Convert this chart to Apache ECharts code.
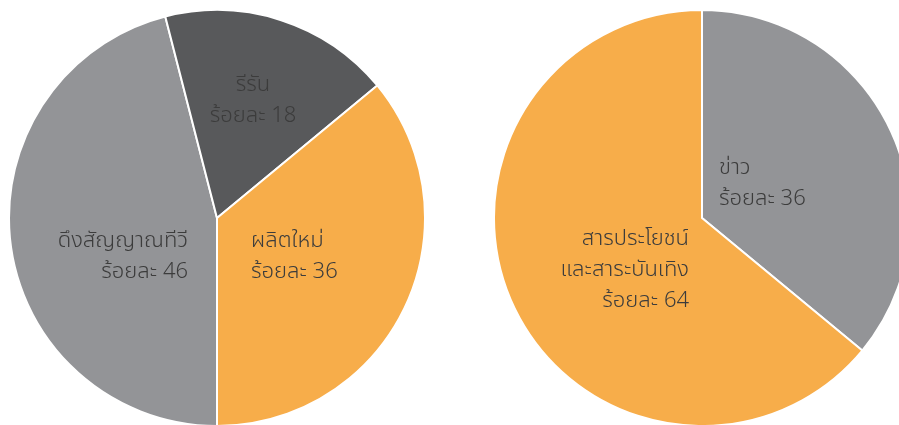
<!DOCTYPE html>
<html>
<head>
<meta charset="utf-8">
<style>
  html, body { margin: 0; padding: 0; background: #fff; }
  #chart { width: 899px; height: 425px; }
</style>
<script src="https://cdn.jsdelivr.net/npm/echarts@6/dist/echarts.min.js"></script>
</head>
<body>
<div id="chart"></div>
<script>
  // left pie: how the programmes are produced
  const sourceNames = ['ดึงสัญญาณทีวี', 'รีรัน', 'ผลิตใหม่'];
  const sourceValues = [46, 18, 36];
  // right pie: content type
  const typeNames = ['ข่าว', 'สารประโยชน์\nและสาระบันเทิง'];
  const typeValues = [36, 64];

  const ORANGE = '#f7ad4a';
  const GRAY = '#939497';
  const DARK = '#58595b';

  const sourceColors = [GRAY, DARK, ORANGE];
  const typeColors = [GRAY, ORANGE];

  // label anchors, offsets from the pie centre
  const sourceAnchors = [
    { dx: -29, dy: 40, align: 'right' },
    { dx: 36, dy: -116, align: 'center' },
    { dx: 34, dy: 40, align: 'left' },
  ];
  const typeAnchors = [
    { dx: 17, dy: -33, align: 'left' },
    { dx: -13, dy: 54, align: 'right' },
  ];

  const R = 208;
  const leftCenter = [217, 218];
  const rightCenter = [702, 218];

  function makeData(names, values, colors) {
    return names.map((n, i) => ({
      name: n,
      value: values[i],
      itemStyle: { color: colors[i] },
    }));
  }

  function layoutFor(center, anchors) {
    return function (params) {
      const a = anchors[params.dataIndex];
      return {
        x: center[0] + a.dx,
        y: center[1] + a.dy,
        align: a.align,
        verticalAlign: 'middle',
      };
    };
  }

  const labelStyle = {
    show: true,
    position: 'inside',
    formatter: (p) => p.name + '\nร้อยละ ' + p.value,
    color: '#3c3c3c',
    fontSize: 22,
    fontWeight: 300,
    lineHeight: 31,
    fontFamily: '"Noto Sans Thai", "Noto Sans", sans-serif',
  };

  const chart = echarts.init(document.getElementById('chart'));
  chart.setOption({
    animation: false,
    series: [
      {
        type: 'pie',
        center: leftCenter,
        radius: R,
        startAngle: 270,
        clockwise: true,
        avoidLabelOverlap: false,
        silent: true,
        itemStyle: { borderColor: '#fff', borderWidth: 2 },
        label: labelStyle,
        labelLine: { show: false },
        labelLayout: layoutFor(leftCenter, sourceAnchors),
        data: makeData(sourceNames, sourceValues, sourceColors),
      },
      {
        type: 'pie',
        center: rightCenter,
        radius: R,
        startAngle: 90,
        clockwise: true,
        avoidLabelOverlap: false,
        silent: true,
        itemStyle: { borderColor: '#fff', borderWidth: 2 },
        label: labelStyle,
        labelLine: { show: false },
        labelLayout: layoutFor(rightCenter, typeAnchors),
        data: makeData(typeNames, typeValues, typeColors),
      },
    ],
  });
</script>
</body>
</html>
